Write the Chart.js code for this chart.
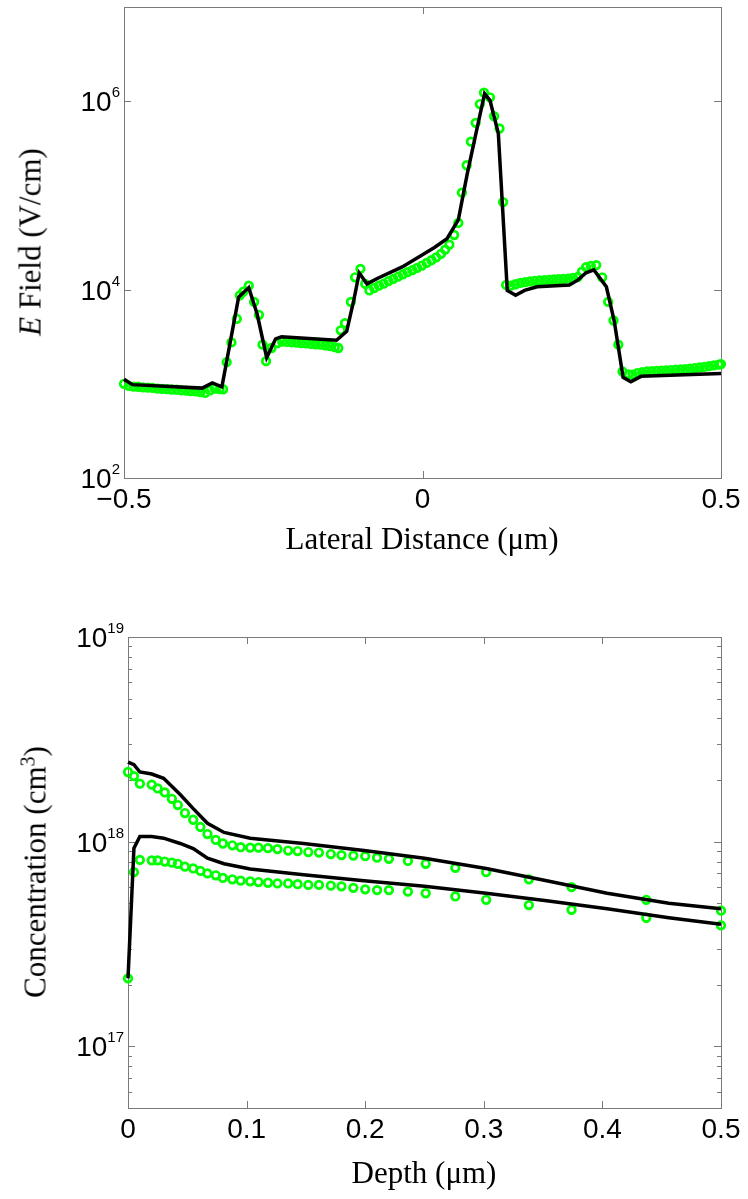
<!DOCTYPE html>
<html>
<head>
<meta charset="utf-8">
<script src="https://cdn.jsdelivr.net/npm/chart.js@4.4.1/dist/chart.umd.min.js"></script>
<style>
  body { margin: 0; width: 748px; height: 1199px; background: #fff; position: relative; overflow: hidden; }
  canvas { position: absolute; left: 0; }
  .title { position: absolute; font-family: 'Liberation Serif', 'Times New Roman', serif; font-size: 31px;
           line-height: 31px; white-space: nowrap; color: #000; transform: translate(-50%, -50%); }
  .ytitle { transform: translate(-50%, -50%) rotate(-90deg); }
  sup { font-size: 20px; line-height: 0; }
</style>
</head>
<body>
<canvas id="fieldChart" width="748" height="600" style="top:0"></canvas>
<canvas id="concChart" width="748" height="599" style="top:600px"></canvas>
<div class="title ytitle" style="left:30px;top:242px"><i>E</i> Field (V/cm)</div>
<div class="title" style="left:422px;top:538px">Lateral Distance (μm)</div>
<div class="title ytitle" style="left:35px;top:872px">Concentration (cm<sup>3</sup>)</div>
<div class="title" style="left:424px;top:1172px">Depth (μm)</div>
<script>
// top panel: E field along the lateral cut
var fieldLineX = [-0.5, -0.486, -0.369, -0.352, -0.336, -0.308, -0.291, -0.277, -0.261, -0.246, -0.236,
  -0.144, -0.127, -0.115, -0.106, -0.093, -0.075, -0.034, 0, 0.02, 0.041, 0.06, 0.075, 0.092, 0.104,
  0.113, 0.127, 0.142, 0.156, 0.171, 0.192, 0.246, 0.26, 0.274, 0.287, 0.308, 0.321, 0.336, 0.349, 0.366, 0.5];
var fieldLineY = [1120, 980, 900, 1020, 930, 8300, 10500, 5500, 1900, 3000, 3150,
  2900, 3600, 7800, 15000, 11500, 13200, 17400, 23400, 28000, 34700, 55000, 170000, 537000, 1200000,
  1020000, 457000, 9800, 8700, 9800, 10700, 11200, 12600, 15100, 16200, 10700, 4700, 1170, 1050, 1200, 1290];

var fieldSimX = [
  -0.5, -0.492, -0.484, -0.476, -0.468, -0.46, -0.452, -0.444, -0.436, -0.428, -0.42, -0.412, -0.404, -0.396,
  -0.388, -0.38, -0.372, -0.364, -0.356, -0.348, -0.34, -0.334,
  -0.328, -0.32, -0.311, -0.306, -0.3, -0.291, -0.282, -0.274, -0.268, -0.262, -0.253, -0.243,
  -0.235, -0.227, -0.219, -0.211, -0.203, -0.195, -0.187, -0.179, -0.171, -0.163, -0.155, -0.147, -0.141,
  -0.137, -0.13, -0.12, -0.113, -0.104, -0.096, -0.089,
  -0.081, -0.073, -0.065, -0.057, -0.049, -0.041, -0.033, -0.025, -0.017, -0.009, -0.001, 0.007, 0.015,
  0.023, 0.031, 0.038, 0.045, 0.053, 0.06,
  0.066, 0.074, 0.081, 0.089, 0.096, 0.103, 0.113, 0.12, 0.129, 0.135, 0.14,
  0.148, 0.156, 0.164, 0.172, 0.18, 0.188, 0.196, 0.204, 0.212, 0.22, 0.228, 0.236, 0.244, 0.252, 0.26,
  0.267, 0.274, 0.282, 0.291, 0.301, 0.311, 0.32, 0.328, 0.335, 0.345,
  0.352, 0.36, 0.368, 0.376, 0.384, 0.392, 0.4, 0.408, 0.416, 0.424, 0.432, 0.44, 0.448, 0.456, 0.464,
  0.472, 0.48, 0.488, 0.496, 0.5];
var fieldSimY = [
  1000, 950, 935, 930, 915, 910, 905, 890, 885, 880, 870, 865, 850, 845,
  835, 830, 815, 800, 850, 890, 880, 875,
  1700, 2750, 4900, 8700, 9500, 11000, 7400, 5400, 2600, 1740, 2400, 2700,
  2800, 2780, 2750, 2730, 2700, 2680, 2650, 2620, 2600, 2560, 2520, 2450, 2400,
  3700, 4400, 7400, 13500, 16600, 11500, 9800,
  10400, 11000, 11600, 12300, 13000, 13700, 14500, 15300, 16100, 17000, 18000, 19200, 20500,
  22000, 24000, 26500, 30000, 38000, 51000,
  107000, 209000, 372000, 589000, 933000, 1230000, 1100000, 692000, 513000, 85000, 11200,
  11000, 11400, 11800, 12000, 12200, 12400, 12500, 12600, 12700, 12800, 12900, 13000, 13100, 13300, 13600,
  15500, 17300, 17800, 18200, 13500, 7400, 4700, 2600, 1350, 1260,
  1250, 1300, 1330, 1350, 1360, 1370, 1380, 1390, 1400, 1410, 1420, 1430, 1450, 1470, 1490,
  1510, 1540, 1570, 1600, 1620];

var fieldTicksX = [-0.5, 0, 0.5];
var fieldTicksY = [1e2, 1e4, 1e6];

// bottom panel: concentration vs depth
var depthLineX = [0, 0.005, 0.01, 0.02, 0.03, 0.044, 0.055, 0.067, 0.081, 0.103, 0.148, 0.199, 0.25, 0.302,
  0.353, 0.404, 0.456, 0.5];
var concLineUpper = [2.45e18, 2.38e18, 2.19e18, 2.14e18, 2.04e18, 1.70e18, 1.45e18, 1.23e18, 1.11e18, 1.04e18,
  9.8e17, 9.05e17, 8.3e17, 7.4e17, 6.45e17, 5.6e17, 5.0e17, 4.7e17];
var concLineLower = [2.15e17, 9.3e17, 1.06e18, 1.06e18, 1.04e18, 9.8e17, 9.25e17, 8.3e17, 7.8e17, 7.35e17,
  6.9e17, 6.45e17, 6.05e17, 5.6e17, 5.15e17, 4.7e17, 4.25e17, 3.95e17];

var depthSimX = [0, 0.005, 0.01, 0.02, 0.025, 0.031, 0.037, 0.042, 0.048, 0.055, 0.061, 0.067, 0.074, 0.08,
  0.088, 0.095, 0.103, 0.11, 0.118, 0.126, 0.135, 0.143, 0.152, 0.161, 0.171, 0.18, 0.19, 0.2, 0.21, 0.22,
  0.236, 0.251, 0.276, 0.302, 0.338, 0.374, 0.437, 0.5];
var concSimUpper = [2.19e18, 2.09e18, 1.92e18, 1.90e18, 1.82e18, 1.74e18, 1.62e18, 1.51e18, 1.38e18, 1.28e18,
  1.18e18, 1.09e18, 1.02e18, 9.8e17, 9.6e17, 9.4e17, 9.35e17, 9.35e17, 9.3e17, 9.2e17, 9.05e17, 9.0e17,
  8.9e17, 8.85e17, 8.7e17, 8.6e17, 8.55e17, 8.5e17, 8.35e17, 8.25e17, 8.05e17, 7.8e17, 7.45e17, 7.1e17,
  6.55e17, 6.0e17, 5.2e17, 4.6e17];
var concSimLower = [2.15e17, 7.1e17, 8.15e17, 8.1e17, 8.1e17, 8.0e17, 7.9e17, 7.8e17, 7.55e17, 7.4e17,
  7.2e17, 7.0e17, 6.85e17, 6.65e17, 6.55e17, 6.45e17, 6.4e17, 6.35e17, 6.3e17, 6.25e17, 6.25e17, 6.2e17,
  6.15e17, 6.15e17, 6.1e17, 6.05e17, 5.95e17, 5.85e17, 5.8e17, 5.8e17, 5.7e17, 5.6e17, 5.4e17, 5.2e17,
  4.9e17, 4.65e17, 4.25e17, 3.9e17];

var depthTicksX = [0, 0.1, 0.2, 0.3, 0.4, 0.5];

var GREEN = '#00ff00';
var SANS = "'Liberation Sans', Arial, Helvetica, sans-serif";

var pts = (xs, ys) => xs.map((x, i) => ({x: x, y: ys[i]}));
var isDecade = v => Math.abs(Math.log10(v) - Math.round(Math.log10(v))) < 1e-9;

var lineSet = (xs, ys) => ({
  data: pts(xs, ys), borderColor: '#000', borderWidth: 3.5, pointRadius: 0,
  tension: 0, clip: false, order: 0
});
var circleSet = (xs, ys) => ({
  data: pts(xs, ys), showLine: false, pointRadius: 3.8, pointBorderWidth: 2.7,
  pointBorderColor: GREEN, pointBackgroundColor: 'rgba(0,0,0,0)', clip: false, order: 1
});

// matlab style box, inward ticks and 10^n labels
var matlabBox = {
  id: 'matlabBox',
  beforeDatasetsDraw(chart) {
    var ctx = chart.ctx, a = chart.chartArea, x = chart.scales.x, y = chart.scales.y;
    ctx.save();
    ctx.strokeStyle = '#7a7a7a';
    ctx.lineWidth = 1;
    ctx.strokeRect(Math.round(a.left) + 0.5, Math.round(a.top) + 0.5,
      Math.round(a.right - a.left), Math.round(a.bottom - a.top));
    ctx.beginPath();
    x.ticks.forEach(t => {
      var px = Math.round(x.getPixelForValue(t.value)) + 0.5;
      ctx.moveTo(px, a.bottom); ctx.lineTo(px, a.bottom - 7);
      ctx.moveTo(px, a.top); ctx.lineTo(px, a.top + 7);
    });
    y.ticks.forEach(t => {
      var py = Math.round(y.getPixelForValue(t.value)) + 0.5;
      var len = isDecade(t.value) ? 7 : 4;
      ctx.moveTo(a.left, py); ctx.lineTo(a.left + len, py);
      ctx.moveTo(a.right, py); ctx.lineTo(a.right - len, py);
    });
    ctx.stroke();
    ctx.restore();
  },
  afterDraw(chart) {
    var ctx = chart.ctx, a = chart.chartArea, y = chart.scales.y;
    ctx.save();
    ctx.fillStyle = '#000';
    ctx.textAlign = 'right';
    ctx.textBaseline = 'alphabetic';
    y.ticks.filter(t => isDecade(t.value)).forEach(t => {
      var py = y.getPixelForValue(t.value);
      var ex = String(Math.round(Math.log10(t.value)));
      var right = a.left - 4;
      ctx.font = '15px ' + SANS;
      ctx.fillText(ex, right, py - 4);
      var w = ctx.measureText(ex).width;
      ctx.font = '28px ' + SANS;
      ctx.fillText('10', right - w, py + 10);
    });
    ctx.restore();
  }
};

var baseOptions = (padTop, axisW, axisH, xOpts, yOpts, fmt) => ({
  responsive: false,
  animation: false,
  layout: {padding: {left: 0, right: 27, top: padTop, bottom: 0}},
  plugins: {legend: {display: false}, tooltip: {enabled: false}},
  scales: {
    x: Object.assign({
      type: 'linear',
      grid: {display: false, drawTicks: false},
      border: {display: false},
      ticks: {color: '#000', font: {family: SANS, size: 28}, padding: 5, maxRotation: 0,
              autoSkip: false, callback: fmt},
      afterFit: s => { s.height = axisH; }
    }, xOpts),
    y: Object.assign({
      type: 'logarithmic',
      grid: {display: false, drawTicks: false},
      border: {display: false},
      ticks: {display: false},
      afterFit: s => { s.width = axisW; }
    }, yOpts)
  }
});

var fmtSigned = v => v < 0 ? '\u2212' + Math.abs(v) : String(v);

new Chart(document.getElementById('fieldChart'), {
  type: 'line',
  data: {datasets: [lineSet(fieldLineX, fieldLineY), circleSet(fieldSimX, fieldSimY)]},
  options: baseOptions(7, 124, 600 - 478,
    {min: -0.5, max: 0.5, afterBuildTicks: s => { s.ticks = fieldTicksX.map(v => ({value: v})); }},
    {min: 1e2, max: 1e7, afterBuildTicks: s => { s.ticks = fieldTicksY.map(v => ({value: v})); }},
    fmtSigned),
  plugins: [matlabBox]
});

new Chart(document.getElementById('concChart'), {
  type: 'line',
  data: {datasets: [
    lineSet(depthLineX, concLineUpper), lineSet(depthLineX, concLineLower),
    circleSet(depthSimX, concSimUpper), circleSet(depthSimX, concSimLower)
  ]},
  options: baseOptions(37, 128, 599 - 508,
    {min: 0, max: 0.5, afterBuildTicks: s => { s.ticks = depthTicksX.map(v => ({value: v})); }},
    {min: 5e16, max: 1e19, afterBuildTicks: s => {
      var t = [];
      for (var e = 16; e <= 18; e++) {
        for (var m = 1; m <= 9; m++) {
          var v = m * Math.pow(10, e);
          if (v >= 5e16) t.push({value: v});
        }
      }
      t.push({value: 1e19});
      s.ticks = t;
    }},
    v => String(v)),
  plugins: [matlabBox]
});
</script>
</body>
</html>
